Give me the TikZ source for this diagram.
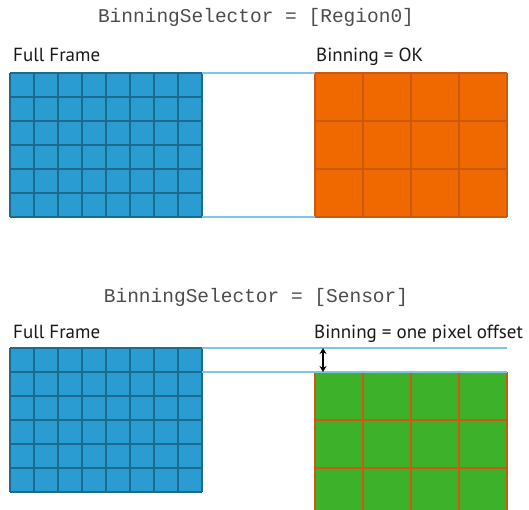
\documentclass[tikz,border=0pt]{standalone}
\usepackage{fontspec}
\setmainfont{PT Sans}
\setmonofont{Liberation Mono}
\usetikzlibrary{arrows.meta}
\definecolor{pixfill}{HTML}{2B9CD1}
\definecolor{pixline}{HTML}{1C6A8E}
\definecolor{binfill}{HTML}{F06800}
\definecolor{binline}{HTML}{C95A10}
\definecolor{okfill}{HTML}{3DB12A}
\definecolor{edgeline}{HTML}{7FC4E4}

\begin{document}
\begin{tikzpicture}[x=1pt,y=-1pt,>=Stealth]
\useasboundingbox (0,0) rectangle (529,510);
\tikzset{sel/.style={anchor=base,font=\ttfamily\fontsize{19.5}{22}\selectfont,text=black!70},
         lbl/.style={anchor=base west,inner sep=0pt,font=\fontsize{19}{21}\selectfont,text=black!90}}
% Region0
\node[sel] (selregion) at (256,23) {BinningSelector = [Region0]};
\node[lbl] (fullA) at (13,62) {Full Frame};
\node[lbl] (okA) at (316,62) {Binning = OK};
\fill[pixfill] (10,73) rectangle (202,217);
\foreach \x in {10,34,...,202} \draw[pixline,line width=1.5pt] (\x,73) -- (\x,217);
\foreach \y in {73,97,...,217} \draw[pixline,line width=1.5pt] (10,\y) -- (202,\y);
\fill[binfill] (315,73) rectangle (507,217);
\foreach \x in {315,363,...,507} \draw[binline,line width=1.5pt] (\x,73) -- (\x,217);
\foreach \y in {73,121,...,217} \draw[binline,line width=1.5pt] (315,\y) -- (507,\y);
\coordinate (fa ne) at (202,73);  \coordinate (fa se) at (202,217);
\coordinate (ba nw) at (315,73);  \coordinate (ba sw) at (315,217);
\draw[edgeline,line width=1.2pt] (fa ne) -- (ba nw) (fa se) -- (ba sw);
% Sensor
\node[sel] (selsensor) at (256,302) {BinningSelector = [Sensor]};
\node[lbl] (fullB) at (13,338) {Full Frame};
\node[lbl] (offB) at (314,338) {Binning = one pixel offset};
\fill[pixfill] (10,348) rectangle (202,492);
\foreach \x in {10,34,...,202} \draw[pixline,line width=1.5pt] (\x,348) -- (\x,492);
\foreach \y in {348,372,...,492} \draw[pixline,line width=1.5pt] (10,\y) -- (202,\y);
\fill[okfill] (315,372) rectangle (507,510);
\foreach \x in {315,363,...,507} \draw[binline,line width=1.5pt] (\x,372) -- (\x,510);
\foreach \y in {372,420,468} \draw[binline,line width=1.5pt] (315,\y) -- (507,\y);
\coordinate (fb ne) at (202,348); \coordinate (fb e) at (202,372);
\coordinate (bb ne) at (507,348); \coordinate (bb e) at (507,372);
\draw[edgeline,line width=1.2pt] (fb ne) -- (bb ne) (fb e) -- (bb e);
\coordinate (off top) at (323,348); \coordinate (off bot) at (323,372);
\draw[<->,>={Stealth[length=6pt,width=7pt]},line width=1.1pt] (off top) -- (off bot);
\end{tikzpicture}
\end{document}
